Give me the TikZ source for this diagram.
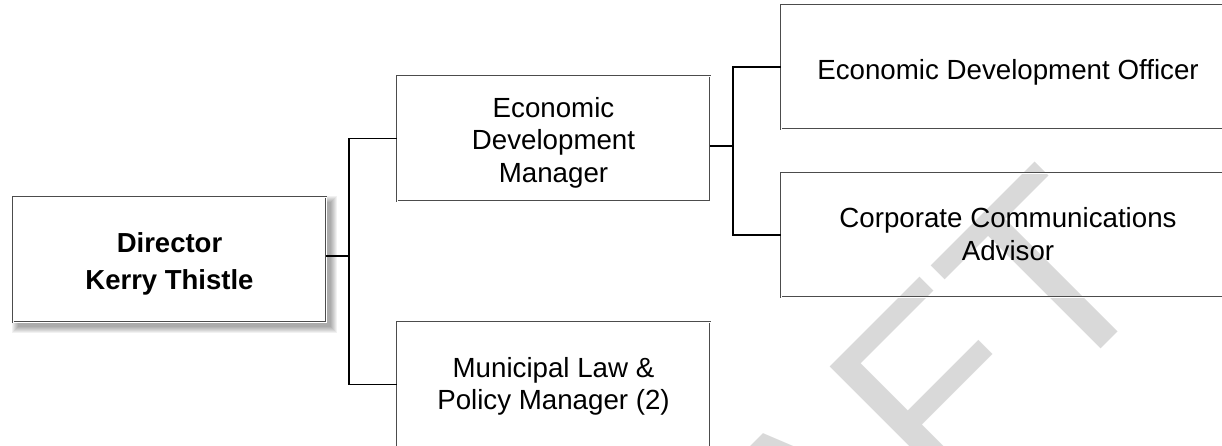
\documentclass[tikz,border=0pt]{standalone}
\usepackage{fontspec}
\setmainfont{Liberation Sans}
\usetikzlibrary{calc}
% lower the visible text by #1 while keeping its nominal size
\newcommand\lowertext[2]{\raisebox{-#1}[\height][\depth]{\begin{tabular}{@{}c@{}}#2\end{tabular}}}
\tikzset{
  box/.style={draw=black!70, double=white, double distance=0.8pt, line width=0.9pt,
    inner sep=0pt, minimum height=125pt,
    font=\fontsize{27.7}{32.5}\selectfont},
  midbox/.style={box, minimum width=313pt},
  widebox/.style={box, minimum width=454pt, minimum height=124pt},
  headbox/.style={midbox, fill=white, font=\fontsize{27.5}{37}\selectfont\bfseries},
  conn/.style={draw=black, line width=1.3pt},
  wmark/.style={rotate=45, anchor=base west, inner sep=0pt, text=black!15,
    font=\fontsize{260}{260}\selectfont},
}
\begin{document}
\begin{tikzpicture}[x=1pt,y=-1pt]
\useasboundingbox (0,0) rectangle (1222,446);
% watermark
\begin{scope}
  \clip (0,0) rectangle (1222,446);
  \node[wmark] (wm) at (553,897) {DRAFT};
\end{scope}
% shadow of the director box
\foreach \e in {0,1,...,6}{
  \fill[black, opacity=0.055] (18-\e,202-\e) rectangle (331+\e,327+\e);
}
% boxes
\node[headbox] (dir) at (169.5,259.5) {\lowertext{4pt}{Director\\Kerry Thistle}};
\node[midbox] (edm) at (553.5,138.5) {\lowertext{5pt}{Economic\\Development\\Manager}};
\node[midbox] (mlp) at (553.5,384.5) {\lowertext{2.5pt}{Municipal Law \&\\Policy Manager (2)}};
\node[widebox] (edo) at (1008,67) {\lowertext{6.5pt}{Economic Development Officer}};
\node[widebox] (cca) at (1008,235) {\lowertext{2.5pt}{Corporate Communications\\Advisor}};
% connectors
\coordinate (b1) at (349,256);
\coordinate (b2) at (733,146);
\draw[conn] (dir.east |- b1) -- (b1);
\draw[conn] (edm.west) -| (b1) |- (mlp.west);
\draw[conn] (edm.east |- b2) -- (b2);
\draw[conn] (edo.west) -| (b2) |- (cca.west);
\end{tikzpicture}
\end{document}
